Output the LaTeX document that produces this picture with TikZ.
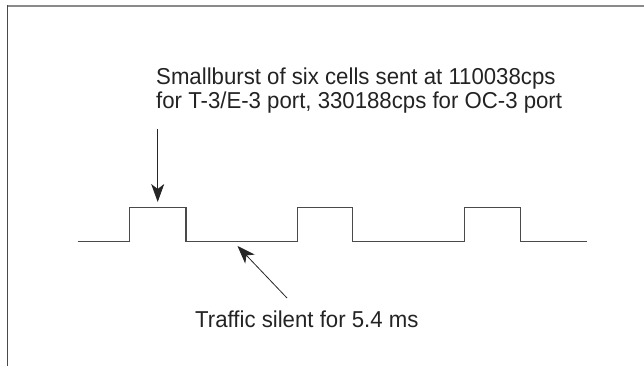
\documentclass[tikz,border=0pt]{standalone}
\usepackage{fontspec}
\setmainfont{Liberation Sans}[FakeStretch=0.965]
\usetikzlibrary{arrows.meta,positioning}
\definecolor{inkgray}{HTML}{4A4A4A}
\definecolor{framegray}{HTML}{8A8A8A}
\definecolor{textgray}{HTML}{232323}
\tikzset{
  signal/.style={draw=inkgray, line width=1.4pt},
  pointer/.style={draw=black!85, line width=0.8pt, -{Stealth[length=18pt,width=13pt,inset=5pt]}},
  note/.style={text=textgray, inner sep=0pt, align=left, font=\fontsize{23}{24.5}\selectfont},
}

\begin{document}
\begin{tikzpicture}[x=1pt,y=-1pt]
  \useasboundingbox (0,0) rectangle (644,366);
  \draw[framegray, line width=2pt] (6.5,6) -- (644,6);
  \draw[inkgray, line width=1.5pt] (7.5,5) -- (7.5,366);

  \node[note, anchor=north west] (burst) at (156,67.5) {Smallburst of six cells sent at 110038cps\\for T-3/E-3 port, 330188cps for OC-3 port};
  \node[note, anchor=base west] (silent) at (195,327.3) {Traffic silent for 5.4 ms};

  \coordinate (burstTail) at (157.7,129);
  \coordinate (burstTip) at (157.7,202);
  \coordinate (silentTail) at (287,298);
  \coordinate (silentTip) at (237.5,246);

  \draw[signal] (77.7,241.3) -| (129.7,207.7) -| (186,241.3) -| (297.3,207.7) -| (352.3,241.3)
    -| (464.3,207.7) -| (520.3,241.3) -- (587.3,241.3);

  \draw[pointer] (burstTail) -- (burstTip);
  \draw[pointer] (silentTail) -- (silentTip);
\end{tikzpicture}
\end{document}
